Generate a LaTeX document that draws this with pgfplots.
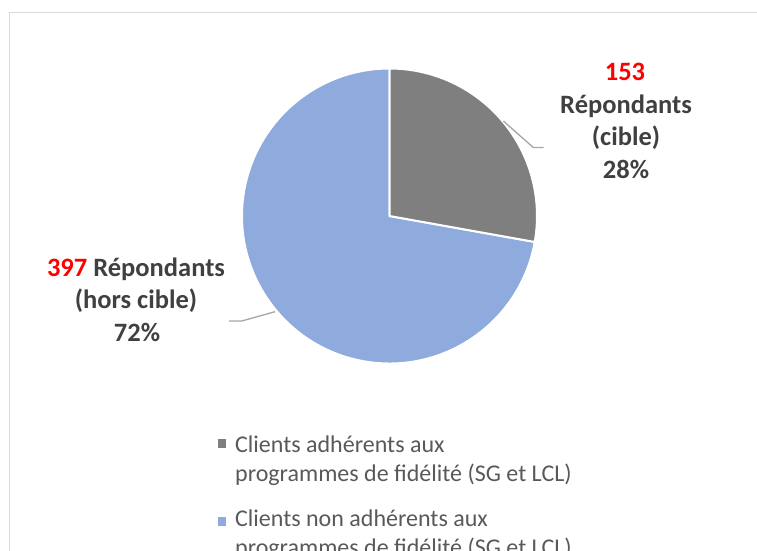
\documentclass[border=0pt]{standalone}
\usepackage{pgfplots}
\pgfplotsset{compat=1.18}
\usepackage{pgfplotstable}
\usepackage{fontspec}
\setmainfont{Carlito}
\definecolor{pgray}{HTML}{7F7F7F}
\definecolor{pblue}{HTML}{8FAADC}
\definecolor{labtxt}{HTML}{404040}
\definecolor{legtxt}{HTML}{595959}
\definecolor{leader}{HTML}{A6A6A6}
\definecolor{framec}{HTML}{D9D9D9}
\pgfplotstableread{
group value
adherents 153
non 397
}\pietable
\begin{document}
\begin{tikzpicture}
\pgfplotstablegetelem{0}{value}\of\pietable \pgfmathsetmacro{\va}{\pgfplotsretval}
\pgfplotstablegetelem{1}{value}\of\pietable \pgfmathsetmacro{\vb}{\pgfplotsretval}
\pgfmathsetmacro{\aMid}{90-360*(\va/(\va+\vb))}
\path[use as bounding box] (0,0) rectangle (757pt,551pt);
\begin{axis}[at={(0,0)},anchor=south west,scale only axis,width=757pt,height=551pt,
  xmin=0,xmax=757,ymin=0,ymax=551,y dir=reverse,hide axis,clip=false]
\draw[framec,line width=1.3pt] (axis cs:9.5,600) -- (axis cs:9.5,12.5) -- (axis cs:800,12.5);
% pie wedges
\filldraw[fill=pblue,draw=white,line width=2pt,line join=round] (axis cs:389.5,216) -- ++(\aMid:147.5pt) arc[start angle=\aMid, end angle=-270, radius=147.5pt] -- cycle;
\filldraw[fill=pgray,draw=white,line width=2pt,line join=round] (axis cs:389.5,216) -- ++(90:147.5pt) arc[start angle=90, end angle=\aMid, radius=147.5pt] -- cycle;
% leader lines
\draw[leader,line width=1.3pt] (axis cs:503.3,121) -- (axis cs:533.3,147.5) -- (axis cs:543.5,147.5);
\draw[leader,line width=1.3pt] (axis cs:275,311.7) -- (axis cs:241.7,321) -- (axis cs:229,321);
% labels
\begin{scope}[every node/.style={inner sep=0pt,anchor=base,font=\fontsize{26.5}{32}\selectfont\bfseries,text=labtxt}]
\node at (axis cs:625,80) {\textcolor{red}{153}};
\node at (axis cs:626,113) {Répondants};
\node at (axis cs:626,145.5) {(cible)};
\node at (axis cs:626,178) {28\%};
\node at (axis cs:136,276) {\textcolor{red}{397} Répondants};
\node at (axis cs:136,308.5) {(hors cible)};
\node at (axis cs:137,341) {72\%};
\end{scope}
% legend
\fill[pgray] (axis cs:217.5,439) rectangle (axis cs:226,447.5);
\fill[pblue] (axis cs:217.5,517) rectangle (axis cs:226,525.5);
\begin{scope}[every node/.style={inner sep=0pt,anchor=base west,font=\fontsize{24}{29}\selectfont,text=legtxt}]
\node at (axis cs:235,452) {Clients adhérents aux};
\node at (axis cs:235,481) {programmes de fidélité (SG et LCL)};
\node at (axis cs:235,526) {Clients non adhérents aux};
\node at (axis cs:235,555) {programmes de fidélité (SG et LCL)};
\end{scope}
\end{axis}
\end{tikzpicture}
\end{document}
